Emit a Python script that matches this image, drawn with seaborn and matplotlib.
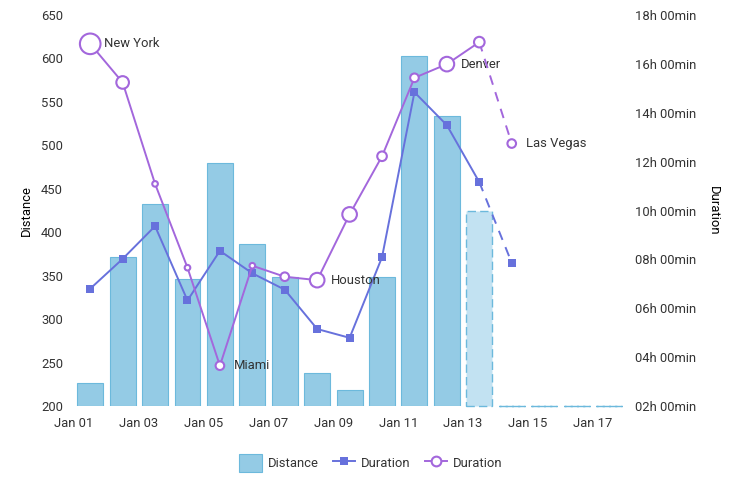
import matplotlib
matplotlib.use("Agg")
import matplotlib.pyplot as plt
import seaborn as sns
import pandas as pd
from matplotlib.patches import Patch
from matplotlib.lines import Line2D
from matplotlib.ticker import FuncFormatter

# --- data ---
day_labels = ["Jan 01", "Jan 02", "Jan 03", "Jan 04", "Jan 05", "Jan 06", "Jan 07", "Jan 08", "Jan 09",
              "Jan 10", "Jan 11", "Jan 12", "Jan 13", "Jan 14", "Jan 15", "Jan 16", "Jan 17"]
distance = [227, 371, 433, 346, 480, 386, 349, 238, 218, 349, 603, 534, 425, 200, 200, 200, 200]
duration_sq = [6.80, 8.02, 9.36, 6.32, 8.35, 7.43, 6.76, 5.15, 4.79, 8.09, 14.84, 13.49, 11.16, 7.86]
duration_circ = [16.82, 15.24, 11.09, 7.66, 3.65, 7.74, 7.29, 7.15, 9.84, 12.22, 15.43, 15.99, 16.89, 12.74]
town_size = [11, 7, 3.5, 3.5, 5, 3.5, 5, 8, 8, 5.5, 5, 8, 6, 5]
town_name = ["New York", "", "", "", "Miami", "", "", "Houston", "", "", "", "Denver", "", "Las Vegas"]

# colours
bar_col = "#94cbe5"
bar_edge = "#6cb9dc"
bar_light = "#c2e2f2"
sq_col = "#6771dc"
circ_col = "#a367dc"
txt_col = "#333333"

plt.rcParams['font.family'] = ['Roboto', 'DejaVu Sans']
plt.rcParams['font.size'] = 9.4
plt.rcParams['text.color'] = txt_col
plt.rcParams['xtick.color'] = txt_col
plt.rcParams['ytick.color'] = txt_col

df = pd.DataFrame({"day": day_labels, "distance": distance})
df["x"] = range(len(df))
df["x"] = df["x"] + 0.5
n_line = len(duration_sq)
dl = pd.DataFrame({"x": df["x"][:n_line].values, "sq": duration_sq, "circ": duration_circ,
                   "size": town_size, "name": town_name})

fig = plt.figure(figsize=(7.42, 5), dpi=100)
ax = fig.add_axes([74 / 742, 1 - 406 / 500, (621 - 74) / 742, (406 - 15) / 500])
ax2 = ax.twinx()

# bars
solid = df.iloc[:12]
future = df.iloc[12:]
ax.bar(solid["x"], solid["distance"] - 200, bottom=200, width=0.8,
       color=bar_col, edgecolor=bar_edge, linewidth=0.8)
ax.bar(future["x"], future["distance"] - 200, bottom=200, width=0.8,
       color=bar_light, edgecolor=bar_edge, linewidth=1.0, linestyle=(0, (6, 3)), clip_on=False)

# lines
solid_l = dl.iloc[:13]
dash_l = dl.iloc[12:]
sns.lineplot(data=solid_l, x="x", y="sq", ax=ax2, color=sq_col, lw=1.4,
             marker="s", markersize=5.2, markeredgewidth=0, zorder=3)
sns.lineplot(data=dash_l, x="x", y="sq", ax=ax2, color=sq_col, lw=1.4, linestyle=(0, (5, 4)),
             marker="s", markersize=5.2, markeredgewidth=0, zorder=3)
sns.lineplot(data=solid_l, x="x", y="circ", ax=ax2, color=circ_col, lw=1.4, zorder=4)
sns.lineplot(data=dash_l, x="x", y="circ", ax=ax2, color=circ_col, lw=1.4, linestyle=(0, (5, 4)), zorder=4)
sizes = [(2 * r * 0.72 - 1.0) ** 2 for r in dl["size"]]
ax2.scatter(dl["x"], dl["circ"], s=sizes, facecolor="white", edgecolor=circ_col, linewidth=1.5, zorder=5)
for _, row in dl.iterrows():
    if row["name"]:
        ax2.annotate(row["name"], (row["x"], row["circ"]), xytext=(10, 0),
                     textcoords="offset points", va="center", ha="left", fontsize=9.4, color=txt_col)

# axes
ax.set_xlim(0, 16.87)
ax.set_ylim(200, 650)
ax2.set_ylim(2, 18)
ax.set_xticks(range(0, 17, 2))
ax.set_xticklabels(day_labels[::2])
ax.set_yticks(range(200, 651, 50))
ax2.set_yticks(range(2, 19, 2))
ax2.yaxis.set_major_formatter(FuncFormatter(lambda v, p: f"{int(v):02d}h 00min"))
ax.tick_params(axis="both", length=0, pad=8)
ax2.tick_params(axis="y", length=0, pad=10)
ax.set_xlabel("")
ax.set_ylabel("Distance", labelpad=6)
ax2.set_ylabel("Duration", rotation=270, labelpad=17)
for a in (ax, ax2):
    for s in a.spines.values():
        s.set_visible(False)

handles = [
    Patch(facecolor=bar_col, edgecolor=bar_edge, linewidth=0.8),
    Line2D([], [], color=sq_col, lw=1.4, marker="s", markersize=5.2, markeredgewidth=0),
    Line2D([], [], color=circ_col, lw=1.4, marker="o", markersize=7, markerfacecolor="white",
           markeredgecolor=circ_col, markeredgewidth=1.5),
]
fig.legend(handles, ["Distance", "Duration", "Duration"], loc="center", bbox_to_anchor=(0.5, 1 - 463 / 500),
           ncol=3, frameon=False, handlelength=1.75, handleheight=1.75, handletextpad=0.45, columnspacing=1.05,
           fontsize=9.4)

fig.savefig("out.png", dpi=100)
